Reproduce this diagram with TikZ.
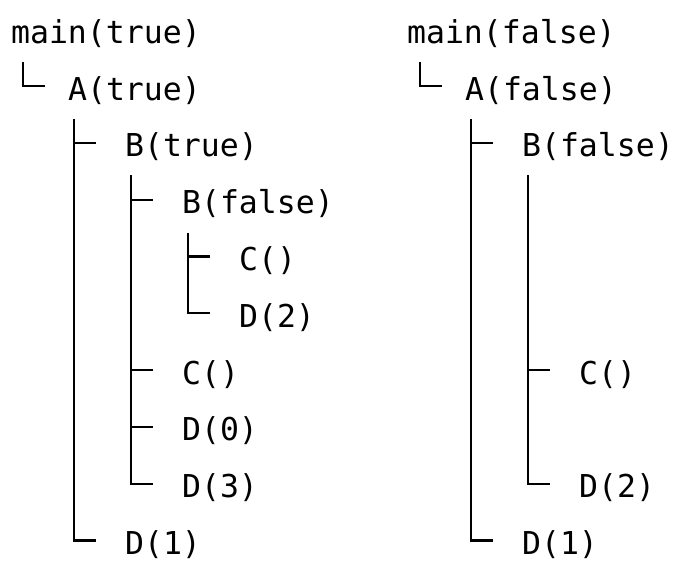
\documentclass[tikz,border=0pt]{standalone}
\usepackage{fontspec}
\setmonofont{DejaVu Sans Mono}

\begin{document}
\begin{tikzpicture}[x=1pt,y=-1pt,line width=2.2pt,
    call/.style={anchor=west,inner sep=0pt,text height=28pt,text depth=0pt,font=\ttfamily\fontsize{31.5}{37}\selectfont}]
    \useasboundingbox(0,0)rectangle(684,571);

    \node[call](mt)at(10,29.2){main(true)};
    \node[call](at)at(67,86){A(true)};
    \node[call](bt)at(124,142.8){B(true)};
    \node[call](bf)at(181,199.6){B(false)};
    \node[call](ca)at(238,256.4){C()};
    \node[call](dtwo)at(238,313.2){D(2)};
    \node[call](cb)at(181,370){C()};
    \node[call](dzero)at(181,426.8){D(0)};
    \node[call](dthree)at(181,483.6){D(3)};
    \node[call](done)at(124,540.4){D(1)};

    \draw(23,62)|-([xshift=-22pt]at.west);
    \coordinate(lb)at(74,119);
    \draw(lb)|-([xshift=-28pt]done.west);
    \draw(lb|-bt.west)--([xshift=-28pt]bt.west);
    \coordinate(lc)at(131,175);
    \draw(lc)|-([xshift=-28pt]dthree.west);
    \draw(lc|-bf.west)--([xshift=-28pt]bf.west);
    \draw(lc|-cb.west)--([xshift=-28pt]cb.west);
    \draw(lc|-dzero.west)--([xshift=-28pt]dzero.west);
    \coordinate(ld)at(188,232.5);
    \draw(ld)|-([xshift=-28pt]dtwo.west);
    \draw(ld|-ca.west)--([xshift=-28pt]ca.west);


    \node[call](mf)at(406,29.2){main(false)};
    \node[call](af)at(464,86){A(false)};
    \node[call](bF)at(521,142.8){B(false)};
    \node[call](cr)at(578,370){C()};
    \node[call](rtwo)at(578,483.6){D(2)};
    \node[call](rone)at(521,540.4){D(1)};

    \draw(420,62)|-([xshift=-22pt]af.west);
    \coordinate(rb)at(471,119);
    \draw(rb)|-([xshift=-28pt]rone.west);
    \draw(rb|-bF.west)--([xshift=-28pt]bF.west);
    \coordinate(rc)at(528,175);
    \draw(rc)|-([xshift=-28pt]rtwo.west);
    \draw(rc|-cr.west)--([xshift=-28pt]cr.west);
\end{tikzpicture}
\end{document}
